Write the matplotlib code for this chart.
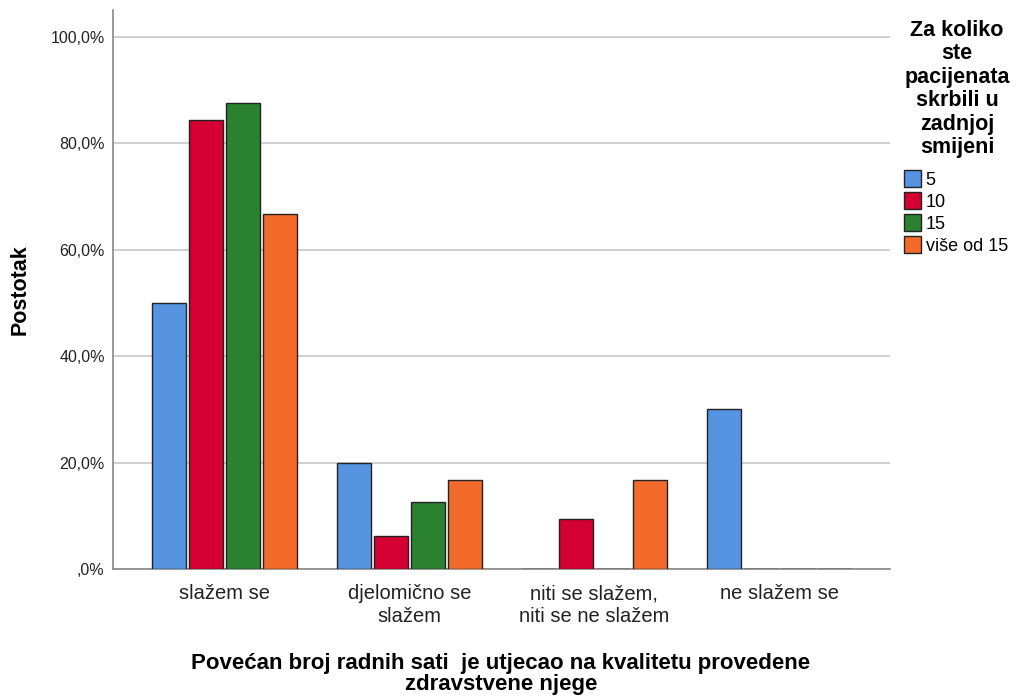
import matplotlib
matplotlib.use("Agg")
import matplotlib.pyplot as plt
import numpy as np

plt.rcParams['font.family'] = ['Liberation Sans', 'DejaVu Sans']

categories = ["slažem se", "djelomično se\nslažem", "niti se slažem,\nniti se ne slažem", "ne slažem se"]
series_names = ["5", "10", "15", "više od 15"]
values_5 = [50.0, 20.0, 0.0, 30.0]
values_10 = [84.4, 6.25, 9.4, 0.0]
values_15 = [87.5, 12.5, 0.0, 0.0]
values_more15 = [66.7, 16.7, 16.7, 0.0]
yticks = [0, 20, 40, 60, 80, 100]
ytick_labels = [",0%", "20,0%", "40,0%", "60,0%", "80,0%", "100,0%"]

colors = ["#5694E2", "#D50032", "#2A8230", "#F26B2A"]
series = [values_5, values_10, values_15, values_more15]

fig = plt.figure(figsize=(10.18, 6.97), dpi=100)
ax = fig.add_axes([113/1018, 1-569/697, (890-113)/1018, (569-10)/697])

x = np.arange(len(categories))
step = 0.2
width = 0.184
for i, (vals, c, name) in enumerate(zip(series, colors, series_names)):
    ax.bar(x + (i - 1.5) * step, vals, width=width, color=c, edgecolor="#222222",
           linewidth=1.0, label=name, zorder=3)

ax.set_xlim(-0.605, 3.6)
ax.set_ylim(0, 105)
ax.set_yticks(yticks)
ax.set_yticklabels(ytick_labels, fontsize=11.5, color="#222222")
ax.set_xticks(x)
ax.set_xticklabels(categories, fontsize=14.5, color="#222222", linespacing=1.25)
ax.tick_params(axis='x', length=0, pad=11)
ax.tick_params(axis='y', length=0, pad=6)
ax.grid(axis='y', color="#C8C8C8", linewidth=1.2, zorder=0)
for s in ["top", "right"]:
    ax.spines[s].set_visible(False)
ax.spines["left"].set_color("#888888")
ax.spines["left"].set_linewidth(1.2)
ax.spines["bottom"].set_color("#888888")
ax.spines["bottom"].set_linewidth(1.2)

fig.text(20/1018, 1-290/697, "Postotak", rotation=90, ha="center", va="center",
         fontsize=15.5, fontweight="bold")
fig.text(501/1018, 1-674/697,
         "Povećan broj radnih sati  je utjecao na kvalitetu provedene\nzdravstvene njege",
         ha="center", va="center", fontsize=16, fontweight="bold", linespacing=0.98)

fig.text(957/1018, 1-20/697, "Za koliko\nste\npacijenata\nskrbili u\nzadnjoj\nsmijeni",
         ha="center", va="top", fontsize=15.5, fontweight="bold", linespacing=1.15)

leg = fig.legend(loc="upper left", bbox_to_anchor=(904/1018, 1-170/697), frameon=False,
                 fontsize=13, handlelength=0.95, handleheight=1.05, handletextpad=0.25,
                 labelspacing=0.2, borderaxespad=0, borderpad=0)

fig.savefig("out.png", dpi=100)
